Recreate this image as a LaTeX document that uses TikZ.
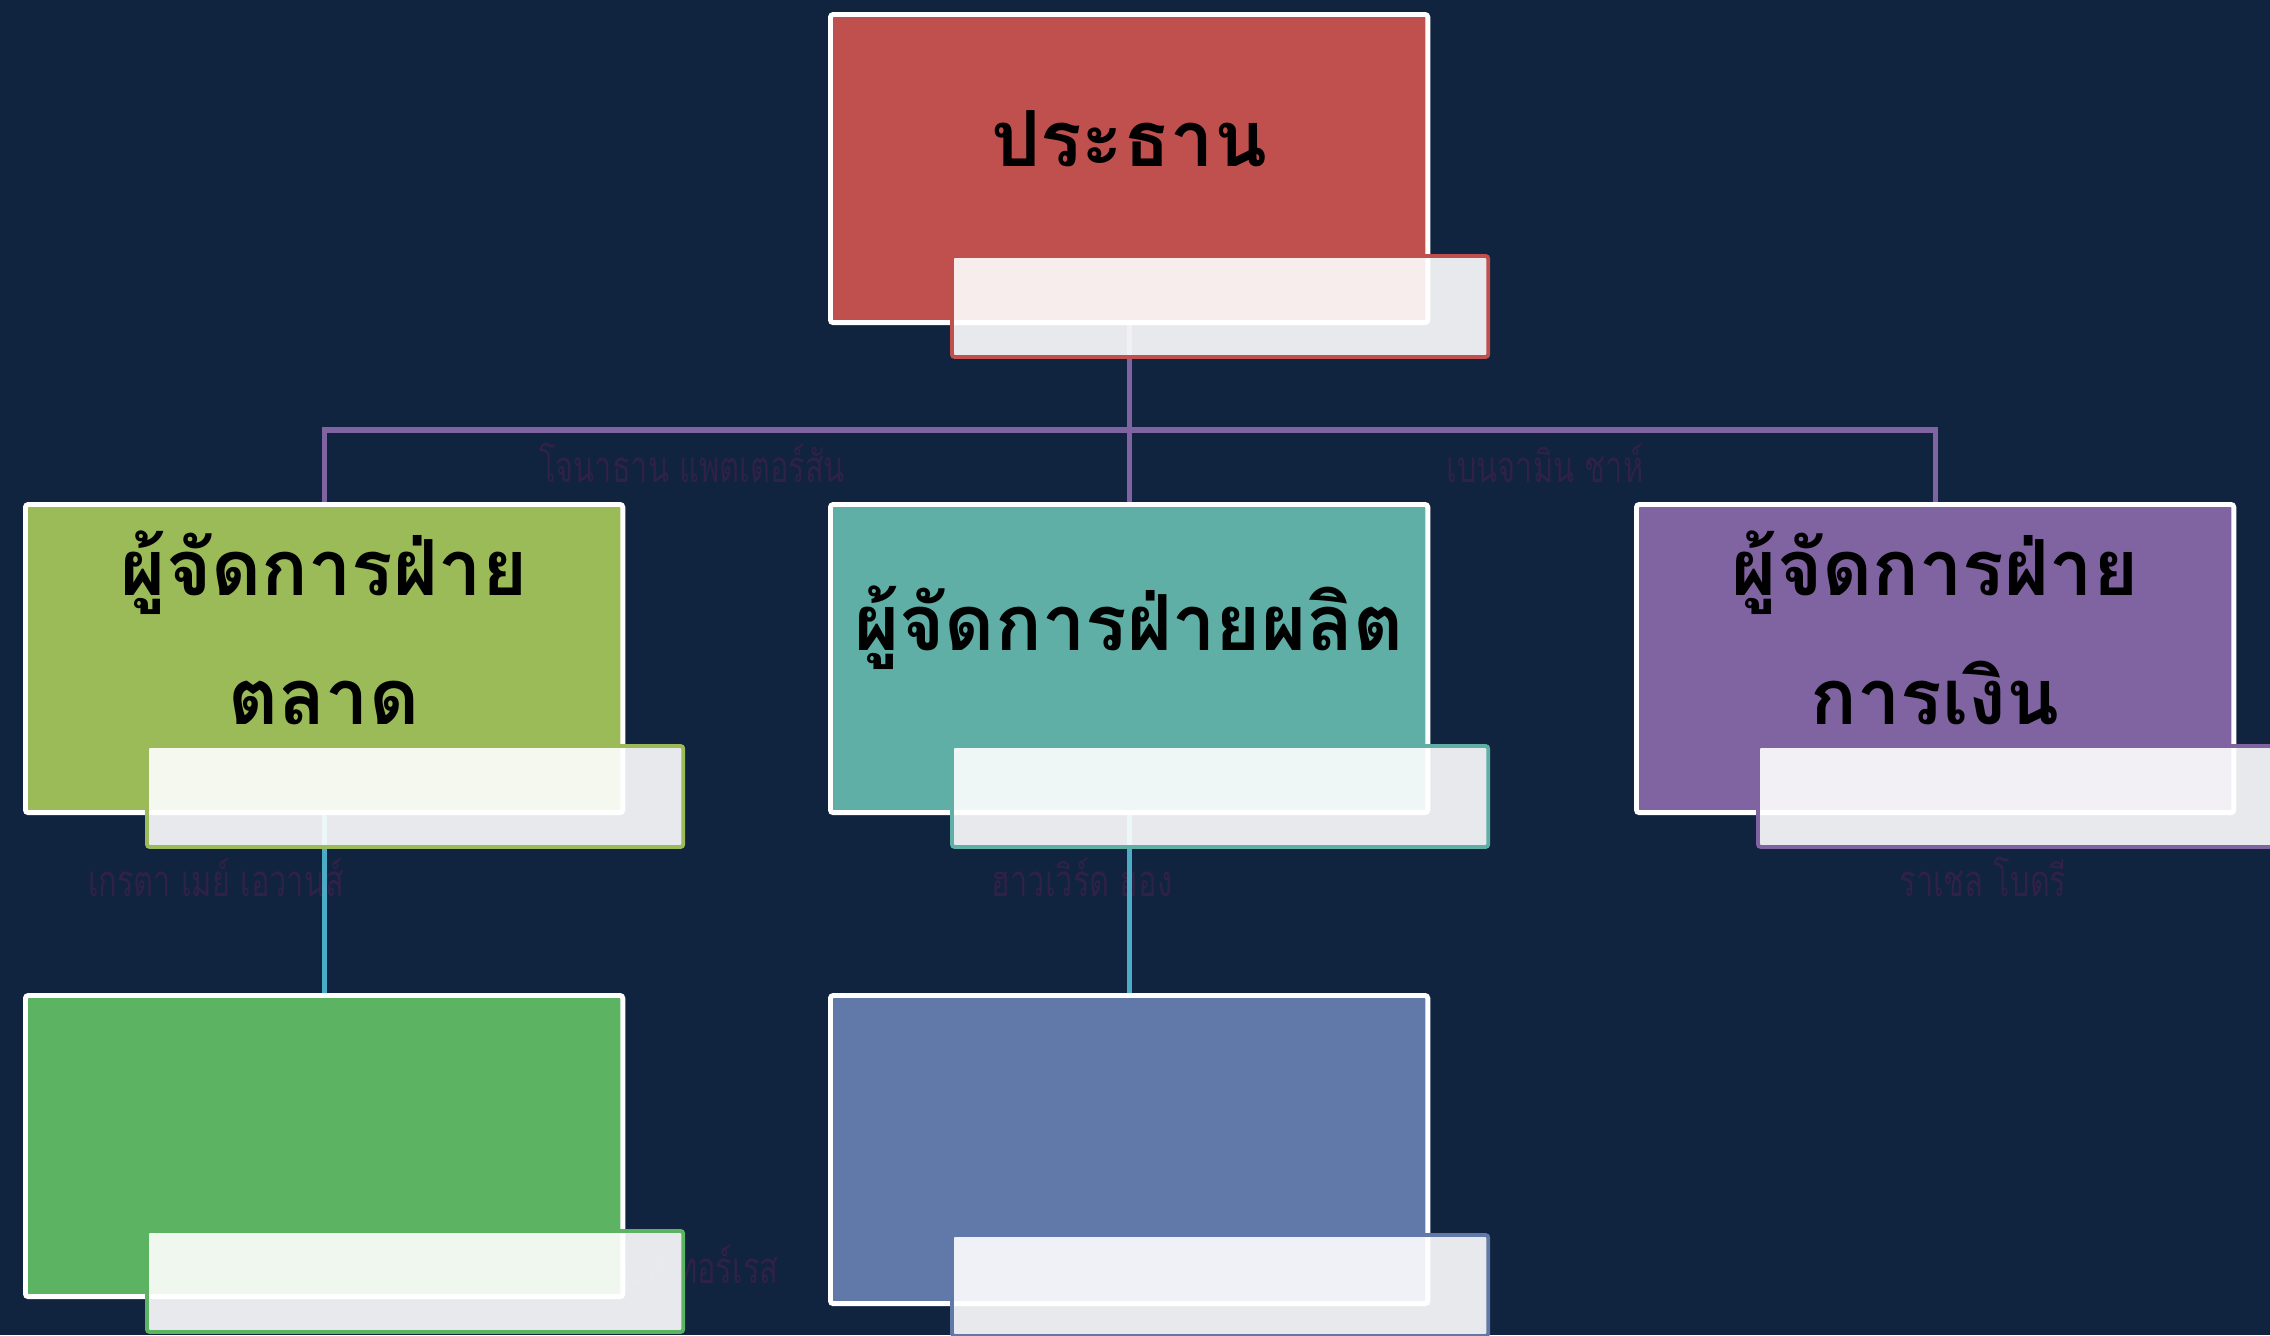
\documentclass[tikz,border=0pt]{standalone}
\usepackage{fontspec}
\usetikzlibrary{positioning,calc,backgrounds}
\newfontfamily\thaifont[Script=Thai]{Loma}
\newfontfamily\thainarrow[Script=Thai,FakeStretch=0.7]{Loma}
\definecolor{pagebg}{HTML}{10233F}
\definecolor{boxred}{HTML}{C0504D}
\definecolor{boxolive}{HTML}{9BBB59}
\definecolor{boxteal}{HTML}{5FAFA7}
\definecolor{boxviolet}{HTML}{8064A2}
\definecolor{boxgreen}{HTML}{5CB463}
\definecolor{boxblue}{HTML}{6079A8}
\definecolor{linkpurple}{HTML}{8064A2}
\definecolor{linkblue}{HTML}{4BACC6}
\definecolor{namefg}{HTML}{2F2147}
\pgfdeclarelayer{backdrop}
\pgfdeclarelayer{links}
\pgfsetlayers{backdrop,links,main}

\begin{document}
\begin{tikzpicture}[x=0.01cm,y=-0.01cm,
    orgbox/.style={draw=white,line width=1.4pt,rounded corners=0.8pt,minimum width=5.97cm,minimum height=3.08cm,inner sep=0pt,anchor=north west},
    tagbox/.style={fill=white,fill opacity=0.9,line width=1.1pt,rounded corners=0.8pt,minimum width=5.36cm,minimum height=1.01cm,inner sep=0pt,anchor=north west},
    titletext/.style={font=\thaifont\bfseries\fontsize{22}{36.7}\selectfont,align=center,text=black,inner sep=0pt},
    namelbl/.style={font=\thainarrow\fontsize{12.5}{14}\selectfont,text=namefg,inner sep=0pt},
    toplink/.style={draw=linkpurple,line width=1.5pt},
    sublink/.style={draw=linkblue,line width=1.5pt}]
  \useasboundingbox (0,0) rectangle (2270,1335);
  \begin{pgfonlayer}{backdrop}
    \fill[pagebg] (0,0) rectangle (2270,1335);
    % names, nearly hidden
    \node[namelbl] (nmjon) at (692,463) {โจนาธาน แพตเตอร์สัน};
    \node[namelbl] (nmben) at (1545,463) {เบนจามิน ชาห์};
    \node[namelbl] (nmgreta) at (216,877) {เกรตา เมย์ เอวานส์};
    \node[namelbl] (nmhoward) at (1082,877) {ฮาวเวิร์ด ฮอง};
    \node[namelbl] (nmrachel) at (1983,877) {ราเชล โบดรี};
    \node[namelbl,anchor=east] (nmcarlos) at (779,1264) {คาร์ลอส ทอร์เรส};
  \end{pgfonlayer}

  % boxes
  \node[orgbox,fill=boxred] (pres) at (828,12) {};
  \node[orgbox,fill=boxolive] (mkt) at (23,502) {};
  \node[orgbox,fill=boxteal] (prod) at (828,502) {};
  \node[orgbox,fill=boxviolet] (fin) at (1634,502) {};
  \node[orgbox,fill=boxgreen,minimum height=3.01cm] (mktsub) at (23,993) {};
  \node[orgbox,fill=boxblue] (prodsub) at (828,993) {};

  % titles
  \node[titletext] (tpres) at ($(pres.north)+(0,127)$) {ประธาน};
  \node[titletext] (tmkt) at ($(mkt.north)+(0,126)$) {ผู้จัดการฝ่าย\\ตลาด};
  \node[titletext] (tprod) at ($(prod.north)+(0,126)$) {ผู้จัดการฝ่ายผลิต};
  \node[titletext] (tfin) at ($(fin.north)+(0,126)$) {ผู้จัดการฝ่าย\\การเงิน};

  % tags
  \node[tagbox,draw=boxred] (tgpres) at ($(pres.north west)+(122,242)$) {};
  \node[tagbox,draw=boxolive] (tgmkt) at ($(mkt.north west)+(122,242)$) {};
  \node[tagbox,draw=boxteal] (tgprod) at ($(prod.north west)+(122,242)$) {};
  \node[tagbox,draw=boxviolet] (tgfin) at ($(fin.north west)+(122,242)$) {};
  \node[tagbox,draw=boxgreen] (tgmktsub) at ($(mktsub.north west)+(122,236)$) {};
  \node[tagbox,draw=boxblue] (tgprodsub) at ($(prodsub.north west)+(122,240)$) {};

  \begin{pgfonlayer}{links}
    \coordinate (bus) at (0,430);
    \draw[toplink] (pres.south) -- (prod.north);
    \draw[toplink] (mkt.north) -- (mkt.north |- bus) -- (fin.north |- bus) -- (fin.north);
    \draw[sublink] (mkt.south) -- (mktsub.north);
    \draw[sublink] (prod.south) -- (prodsub.north);
  \end{pgfonlayer}
\end{tikzpicture}
\end{document}
